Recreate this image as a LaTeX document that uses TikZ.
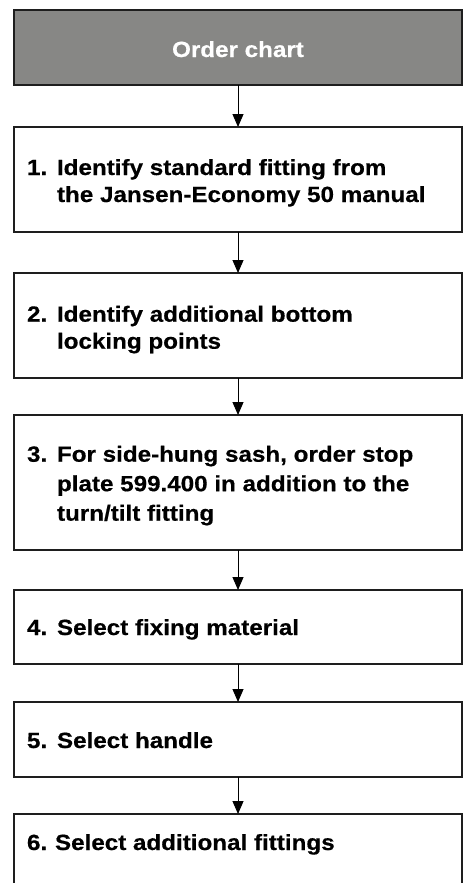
\documentclass[tikz,border=0pt]{standalone}
\usepackage{fontspec}
\newfontfamily\chartfont{Liberation Sans}[FakeStretch=1.1,FakeBold=0.5]
\usetikzlibrary{arrows.meta}
\definecolor{headgray}{RGB}{135,135,133}
\definecolor{edge}{RGB}{30,30,30}
\begin{document}
\begin{tikzpicture}[x=1pt,y=1pt,
  stepbox/.style={draw=edge, line width=1.3pt, fill=white, rectangle, anchor=north west, minimum width=448pt, inner sep=0pt, outer sep=0pt},
  headbox/.style={stepbox, fill=headgray},
  steptext/.style={anchor=base west, inner sep=0pt, outer sep=0pt, font=\chartfont\bfseries\fontsize{22}{27}\selectfont},
  headtext/.style={anchor=base, inner sep=0pt, text=white, font=\chartfont\bfseries\fontsize{22}{27}\selectfont},
  arr/.style={draw=black, line width=1pt, -{Triangle[length=13pt,width=11pt]}}
]
\useasboundingbox (0,0) rectangle (469,-883);
\clip (0,0) rectangle (469,-883);
\node[headbox, minimum height=75pt] (h) at (14,-10) {};
\node[stepbox, minimum height=105pt] (b1) at (14,-127) {};
\node[stepbox, minimum height=105pt] (b2) at (14,-273) {};
\node[stepbox, minimum height=135pt] (b3) at (14,-415) {};
\node[stepbox, minimum height=74pt] (b4) at (14,-590) {};
\node[stepbox, minimum height=75pt] (b5) at (14,-702) {};
\node[stepbox, minimum height=85pt] (b6) at (14,-814) {};

\node[headtext] (ht) at (238,-57) {Order chart};
\node[steptext] (t1) at (27,-175) {\begin{tabular}[t]{@{}l@{}}\makebox[30pt][l]{1.}Identify standard fitting from\\\hspace*{30pt}the Jansen-Economy 50 manual\end{tabular}};
\node[steptext] (t2) at (27,-321.7) {\begin{tabular}[t]{@{}l@{}}\makebox[30pt][l]{2.}Identify additional bottom\\\hspace*{30pt}locking points\end{tabular}};
\node[steptext, font=\chartfont\bfseries\fontsize{22}{29.5}\selectfont] (t3) at (27,-461.7) {\begin{tabular}[t]{@{}l@{}}\makebox[30pt][l]{3.}For side-hung sash, order stop\\\hspace*{30pt}plate 599.400 in addition to the\\\hspace*{30pt}turn/tilt fitting\end{tabular}};
\node[steptext] (t4) at (27,-635) {\makebox[30pt][l]{4.}Select fixing material};
\node[steptext] (t5) at (27,-748) {\makebox[30pt][l]{5.}Select handle};
\node[steptext] (t6) at (27,-850) {\makebox[28pt][l]{6.}Select additional fittings};

\draw[arr] (h.south) -- (b1.north);
\draw[arr] (b1.south) -- (b2.north);
\draw[arr] (b2.south) -- (b3.north);
\draw[arr] (b3.south) -- (b4.north);
\draw[arr] (b4.south) -- (b5.north);
\draw[arr] (b5.south) -- (b6.north);
\end{tikzpicture}
\end{document}
